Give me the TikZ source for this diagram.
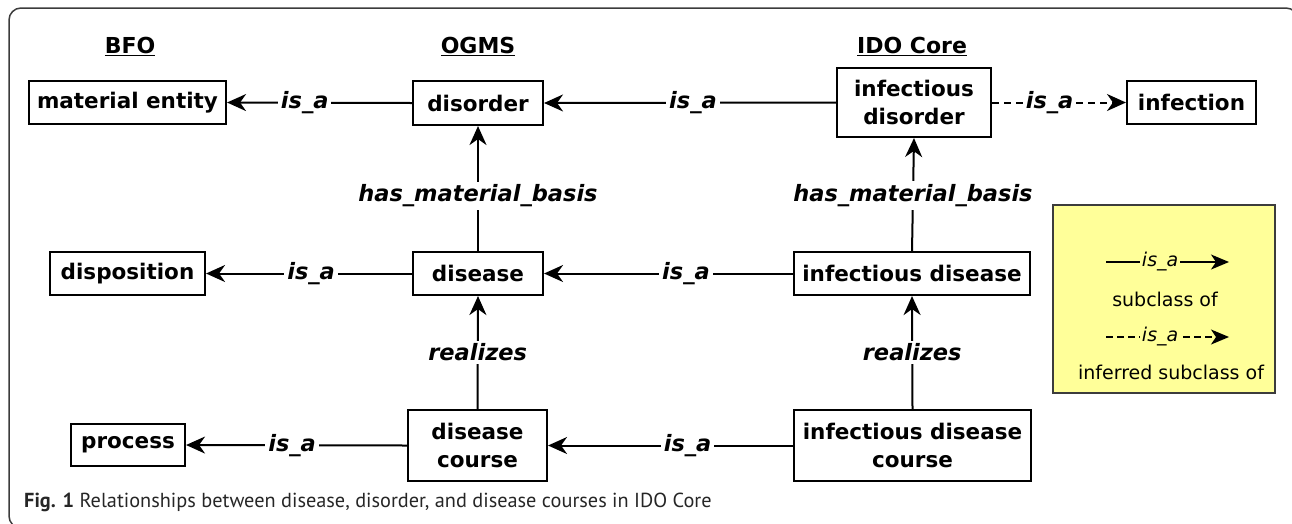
\documentclass[tikz,border=0pt]{standalone}
\usepackage{fontspec}
\setmainfont{DejaVu Sans}
\newfontfamily\capfont{PT Sans}
\usetikzlibrary{arrows.meta}
\definecolor{legendyellow}{RGB}{255,255,153}
\definecolor{framegray}{RGB}{60,60,60}
\begin{document}
\begin{tikzpicture}[x=1pt,y=-1pt,
  box/.style={draw, line width=2.1pt, inner sep=0pt, align=center,
    font=\bfseries\fontsize{21.5}{28}\selectfont},
  head/.style={font=\bfseries\fontsize{22}{26}\selectfont, inner sep=0pt},
  rel/.style={line width=2pt, -{Stealth[length=19pt,width=17pt,inset=6pt]}},
  lab/.style={fill=white, inner sep=3pt, font=\bfseries\itshape\fontsize{22.5}{26}\selectfont},
  legrel/.style={line width=1.5pt, -{Stealth[length=18pt,width=15pt,inset=5pt]}},
  leglab/.style={fill=legendyellow, inner sep=1.5pt, font=\itshape\fontsize{19}{22}\selectfont},
  legtext/.style={font=\fontsize{19}{22}\selectfont, inner sep=0pt},
]
\useasboundingbox (0,0) rectangle (1292,523);
\draw[line width=1.5pt, rounded corners=12pt, color=framegray] (9,8) rectangle (1298,528);

% headings
\node[head] (hbfo) at (130,46) {\underline{BFO}};
\node[head] (hogms) at (478,46) {\underline{OGMS}};
\node[head] (hido) at (912,46) {\underline{IDO Core}};

% nodes
\node[box, minimum width=197pt, minimum height=43pt] (me) at (127.5,102.5) {material entity};
\node[box, minimum width=130pt, minimum height=44pt] (dis) at (478,103) {disorder};
\node[box, minimum width=154pt, minimum height=69pt] (idis) at (914,102.5) {infectious\\disorder};
\node[box, minimum width=129pt, minimum height=43pt] (inf) at (1191.5,102.5) {infection};

\node[box, minimum width=155pt, minimum height=43pt] (dsp) at (127.5,273.5) {disposition};
\node[box, minimum width=130pt, minimum height=43pt] (dse) at (478,273.5) {disease};
\node[box, minimum width=236pt, minimum height=43pt] (idse) at (912,273.5) {infectious disease};

\node[box, minimum width=114pt, minimum height=42pt] (proc) at (128,445) {process};
\node[box, minimum width=139pt, minimum height=71pt] (dc) at (477.5,445.5) {disease\\course};
\node[box, minimum width=237pt, minimum height=71pt] (idc) at (912.5,445.5) {infectious disease\\course};

% relations
\draw[rel] (dis.west) -- node[lab, pos=0.58]{is\_a} (me.east);
\draw[rel] (idis.west) -- node[lab, pos=0.49]{is\_a} (dis.east);
\draw[rel, dash pattern=on 7pt off 5pt] (idis.east) -- node[lab, pos=0.43]{is\_a} (inf.west);

\draw[rel] (dse.north) -- node[lab, pos=0.44]{has\_material\_basis} (dis.south);
\draw[rel] (idse.north) -- node[lab, pos=0.49]{has\_material\_basis} (idis.south);

\draw[rel] (dse.west) -- node[lab, pos=0.49]{is\_a} (dsp.east);
\draw[rel] (idse.west) -- node[lab, pos=0.43]{is\_a} (dse.east);

\draw[rel] (dc.north) -- node[lab]{realizes} (dse.south);
\draw[rel] (idc.north) -- node[lab]{realizes} (idse.south);

\draw[rel] (dc.west) -- node[lab, pos=0.52]{is\_a} (proc.east);
\draw[rel] (idc.west) -- node[lab, pos=0.43]{is\_a} (dc.east);

% legend
\node[draw=framegray, fill=legendyellow, line width=1.2pt, minimum width=222pt, minimum height=188pt, inner sep=0pt] (leg) at (1164,299) {};
\coordinate (la1) at (1106,262);
\coordinate (lb1) at (1229,262);
\draw[legrel] (la1) -- node[leglab, pos=0.44]{is\_a} (lb1);
\node[legtext] (lt1) at (1165,299) {subclass of};
\coordinate (la2) at (1106,337);
\coordinate (lb2) at (1229,337);
\draw[legrel, dash pattern=on 7pt off 4pt] (la2) -- node[leglab, pos=0.44]{is\_a} (lb2);
\node[legtext] (lt2) at (1171,372) {inferred subclass of};

% caption
\node[anchor=west, inner sep=0pt, font=\capfont\fontsize{20.3}{24}\selectfont, text=black!85] (cap) at (24,502)
  {\textbf{Fig. 1} Relationships between disease, disorder, and disease courses in IDO Core};
\end{tikzpicture}
\end{document}
